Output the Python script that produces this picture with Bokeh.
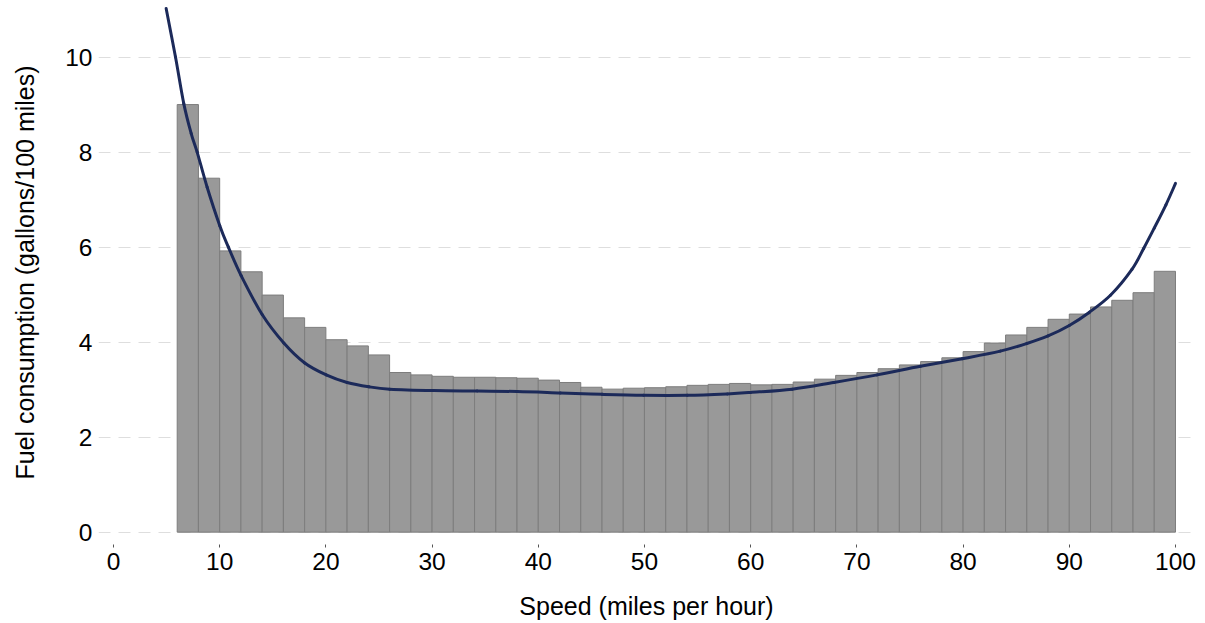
from bokeh.plotting import figure
from bokeh.models import Range1d, FixedTicker, ColumnDataSource
from bokeh.embed import file_html
from bokeh.resources import INLINE

# Histogram bins (left edge, mph) and mean fuel consumption
bin_left = [6, 8, 10, 12, 14, 16, 18, 20, 22, 24, 26, 28, 30, 32, 34, 36, 38, 40,
            42, 44, 46, 48, 50, 52, 54, 56, 58, 60, 62, 64, 66, 68, 70, 72, 74, 76,
            78, 80, 82, 84, 86, 88, 90, 92, 94, 96, 98]
bin_width = 2
fuel = [9.00, 7.45, 5.92, 5.48, 4.99, 4.51, 4.31, 4.05, 3.92, 3.73, 3.36, 3.31,
        3.28, 3.26, 3.26, 3.25, 3.24, 3.20, 3.15, 3.05, 3.01, 3.03, 3.04, 3.06,
        3.09, 3.11, 3.13, 3.10, 3.11, 3.16, 3.22, 3.30, 3.36, 3.44, 3.52, 3.59,
        3.67, 3.80, 3.98, 4.15, 4.31, 4.48, 4.59, 4.74, 4.88, 5.04, 5.49]

# Fitted curve
curve_x = [4.96, 5.84, 6.62, 7.32, 7.88, 8.82, 10.01, 10.82, 12.02, 14.0, 16.04,
           18.01, 20.03, 22.0, 24.04, 26.02, 30.16, 34.25, 38.01, 42.09, 46.02,
           49.93, 54.02, 57.79, 59.98, 63.91, 67.83, 71.91, 75.99, 79.92, 83.5,
           86.0, 88.0, 90.0, 91.9, 93.9, 95.9, 97.0, 98.0, 99.1, 100.0]
curve_y = [11.02, 10.0, 9.02, 8.39, 8.0, 7.26, 6.45, 6.0, 5.40, 4.58, 3.98,
           3.56, 3.31, 3.15, 3.06, 3.01, 2.98, 2.97, 2.96, 2.93, 2.90,
           2.88, 2.88, 2.91, 2.94, 3.01, 3.15, 3.31, 3.49, 3.65, 3.81,
           3.97, 4.13, 4.35, 4.63, 4.99, 5.53, 5.97, 6.40, 6.89, 7.34]

x_ticks = [0, 10, 20, 30, 40, 50, 60, 70, 80, 90, 100]
y_ticks = [0, 2, 4, 6, 8, 10]

FONT = "Liberation Sans"

p = figure(width=1205, height=623, output_backend="svg", toolbar_location=None,
           x_range=Range1d(-1.41, 101.79), y_range=Range1d(-0.26, 11.19),
           min_border_left=98, min_border_right=11, min_border_top=0,
           min_border_bottom=79)
p.outline_line_color = None
p.background_fill_color = "white"
p.border_fill_color = "white"

src = ColumnDataSource(dict(left=bin_left,
                            right=[b + bin_width for b in bin_left],
                            top=fuel,
                            bottom=[0] * len(fuel)))
p.quad(left="left", right="right", top="top", bottom="bottom", source=src,
       fill_color="#999999", line_color="#7d7d7d", line_width=1)

# smooth rendering of the read curve points (Catmull-Rom -> cubic Bezier segments)
n = len(curve_x)
seg = dict(x0=[], y0=[], x1=[], y1=[], cx0=[], cy0=[], cx1=[], cy1=[])
for i in range(n - 1):
    xa, ya = curve_x[i], curve_y[i]
    xb, yb = curve_x[i + 1], curve_y[i + 1]
    xp, yp = (curve_x[i - 1], curve_y[i - 1]) if i > 0 else (xa, ya)
    xn, yn = (curve_x[i + 2], curve_y[i + 2]) if i + 2 < n else (xb, yb)
    seg["x0"].append(xa); seg["y0"].append(ya)
    seg["x1"].append(xb); seg["y1"].append(yb)
    seg["cx0"].append(xa + (xb - xp) / 6); seg["cy0"].append(ya + (yb - yp) / 6)
    seg["cx1"].append(xb - (xn - xa) / 6); seg["cy1"].append(yb - (yn - ya) / 6)
p.bezier(x0="x0", y0="y0", x1="x1", y1="y1", cx0="cx0", cy0="cy0",
         cx1="cx1", cy1="cy1", source=ColumnDataSource(seg),
         line_color="#1c2a5a", line_width=3, line_cap="round")

p.xgrid.visible = False
p.ygrid.grid_line_color = "#dedede"
p.ygrid.grid_line_dash = "12 8"
p.ygrid.grid_line_width = 1.2

p.xaxis.ticker = FixedTicker(ticks=x_ticks)
p.yaxis.ticker = FixedTicker(ticks=y_ticks)
for ax in (p.xaxis[0], p.yaxis[0]):
    ax.axis_line_color = None
    ax.minor_tick_line_color = None
    ax.major_label_text_font = FONT
    ax.major_label_text_font_size = "24.5px"
    ax.major_label_text_color = "black"
    ax.axis_label_text_font = FONT
    ax.axis_label_text_font_size = "25px"
    ax.axis_label_text_font_style = "normal"
    ax.axis_label_text_color = "black"

p.xaxis.major_tick_in = 0
p.xaxis.major_tick_out = 3
p.xaxis.major_tick_line_color = "#555555"
p.xaxis.major_label_standoff = 5
p.xaxis.axis_label = "Speed (miles per hour)"
p.xaxis.axis_label_standoff = 19

p.yaxis.major_tick_line_color = None
p.yaxis.major_tick_in = 0
p.yaxis.major_tick_out = 0
p.yaxis.major_label_standoff = 6
p.yaxis.axis_label = "Fuel consumption (gallons/100 miles)"
p.yaxis.axis_label_standoff = 23

open("out.html", "w").write(file_html(p, INLINE))
